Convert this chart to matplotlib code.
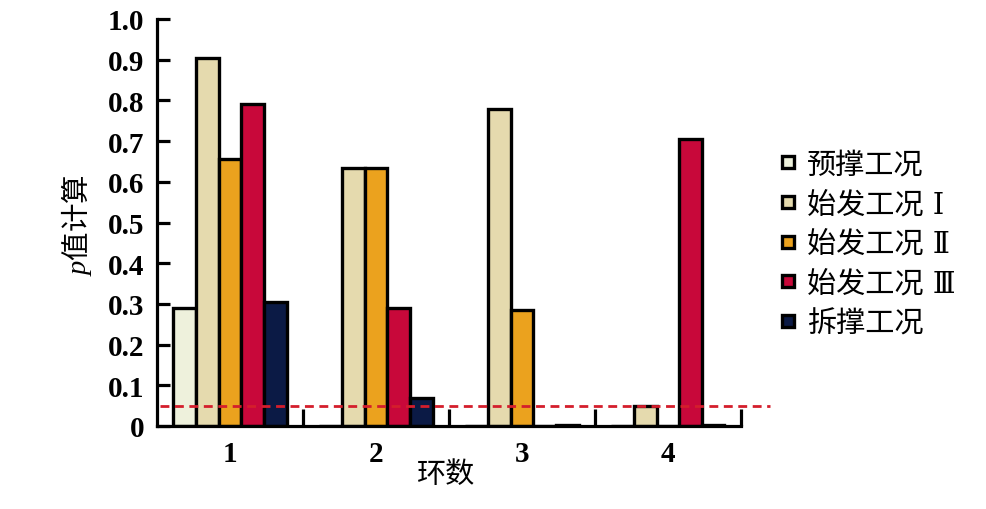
import matplotlib
matplotlib.use("Agg")
import matplotlib.pyplot as plt
from matplotlib.lines import Line2D
import numpy as np

plt.rcParams['font.family'] = ['Noto Sans CJK SC', 'DejaVu Sans']
plt.rcParams['mathtext.fontset'] = 'custom'
plt.rcParams['mathtext.it'] = 'Liberation Serif:italic'
plt.rcParams['mathtext.rm'] = 'Liberation Serif'

rings = [1, 2, 3, 4]
series_names = ['预撑工况', '始发工况 Ⅰ', '始发工况 Ⅱ', '始发工况 Ⅲ', '拆撑工况']
values = {
    '预撑工况':   [0.29, 0.0, 0.0, 0.0],
    '始发工况 Ⅰ': [0.905, 0.635, 0.78, 0.05],
    '始发工况 Ⅱ': [0.655, 0.635, 0.285, 0.0],
    '始发工况 Ⅲ': [0.79, 0.29, 0.0, 0.705],
    '拆撑工况':   [0.305, 0.07, 0.003, 0.003],
}
colors = ['#EEF1DC', '#E5DAAE', '#EBA21E', '#C8083A', '#0B1A45']
threshold = 0.05
yticks = [0, 0.1, 0.2, 0.3, 0.4, 0.5, 0.6, 0.7, 0.8, 0.9, 1.0]
ytick_labels = ['0', '0.1', '0.2', '0.3', '0.4', '0.5', '0.6', '0.7', '0.8', '0.9', '1.0']

W, H = 987, 510
fig = plt.figure(figsize=(W/100, H/100), dpi=100)
ax = fig.add_axes([157/W, 1-427/H, (770-157)/W, (427-20)/H])

bw = 0.155
x = np.array(rings, dtype=float)
for i, name in enumerate(series_names):
    off = (i - 2) * bw
    ax.bar(x + off, values[name], width=bw, color=colors[i], edgecolor='black',
           linewidth=2.4, zorder=2)

x_end = 4.5 + (768-739)/145.5
ax.plot([0.52, x_end], [threshold, threshold], ls=(0, (3.2, 2.0)), color='#D41E2C',
        lw=2.0, zorder=3, clip_on=False)

ax.set_xlim(0.5, x_end)
ax.set_ylim(0, 1.0)
for s in ['top', 'right']:
    ax.spines[s].set_visible(False)
ax.spines['left'].set_linewidth(2.3)
ax.spines['bottom'].set_linewidth(2.3)
ax.spines['bottom'].set_bounds(0.5, 4.5)

ax.set_yticks(yticks)
ax.set_yticklabels(ytick_labels, fontfamily='Liberation Serif', fontsize=21,
                   fontweight='bold')
ax.tick_params(axis='y', direction='in', length=9, width=2.3, pad=9)
ax.set_xticks(rings)
ax.set_xticklabels([str(r) for r in rings], fontfamily='Liberation Serif', fontsize=21,
                   fontweight='bold')
ax.tick_params(axis='x', which='major', length=0, pad=10)
ax.set_xticks([1.5, 2.5, 3.5, 4.5], minor=True)
ax.tick_params(axis='x', which='minor', direction='in', length=12, width=2.3)

fig.text(77/W, 1-225/H, r'$\mathit{p}$值计算', rotation=90, ha='center', va='center',
         fontsize=20.5)
fig.text(446/W, 1-475/H, '环数', ha='center', va='center', fontsize=21)

handles = [Line2D([], [], marker='s', ls='none', markersize=9, markerfacecolor=c,
                  markeredgecolor='black', markeredgewidth=2.4) for c in colors]
fig.legend(handles, series_names, loc='upper left', bbox_to_anchor=(765/W, 1-140/H),
           frameon=False, prop={'family': ['DejaVu Serif', 'Noto Sans CJK SC'], 'size': 21},
           handlelength=0.8, handletextpad=0.25, labelspacing=0.4, borderaxespad=0)

fig.savefig('out.png', dpi=100)
